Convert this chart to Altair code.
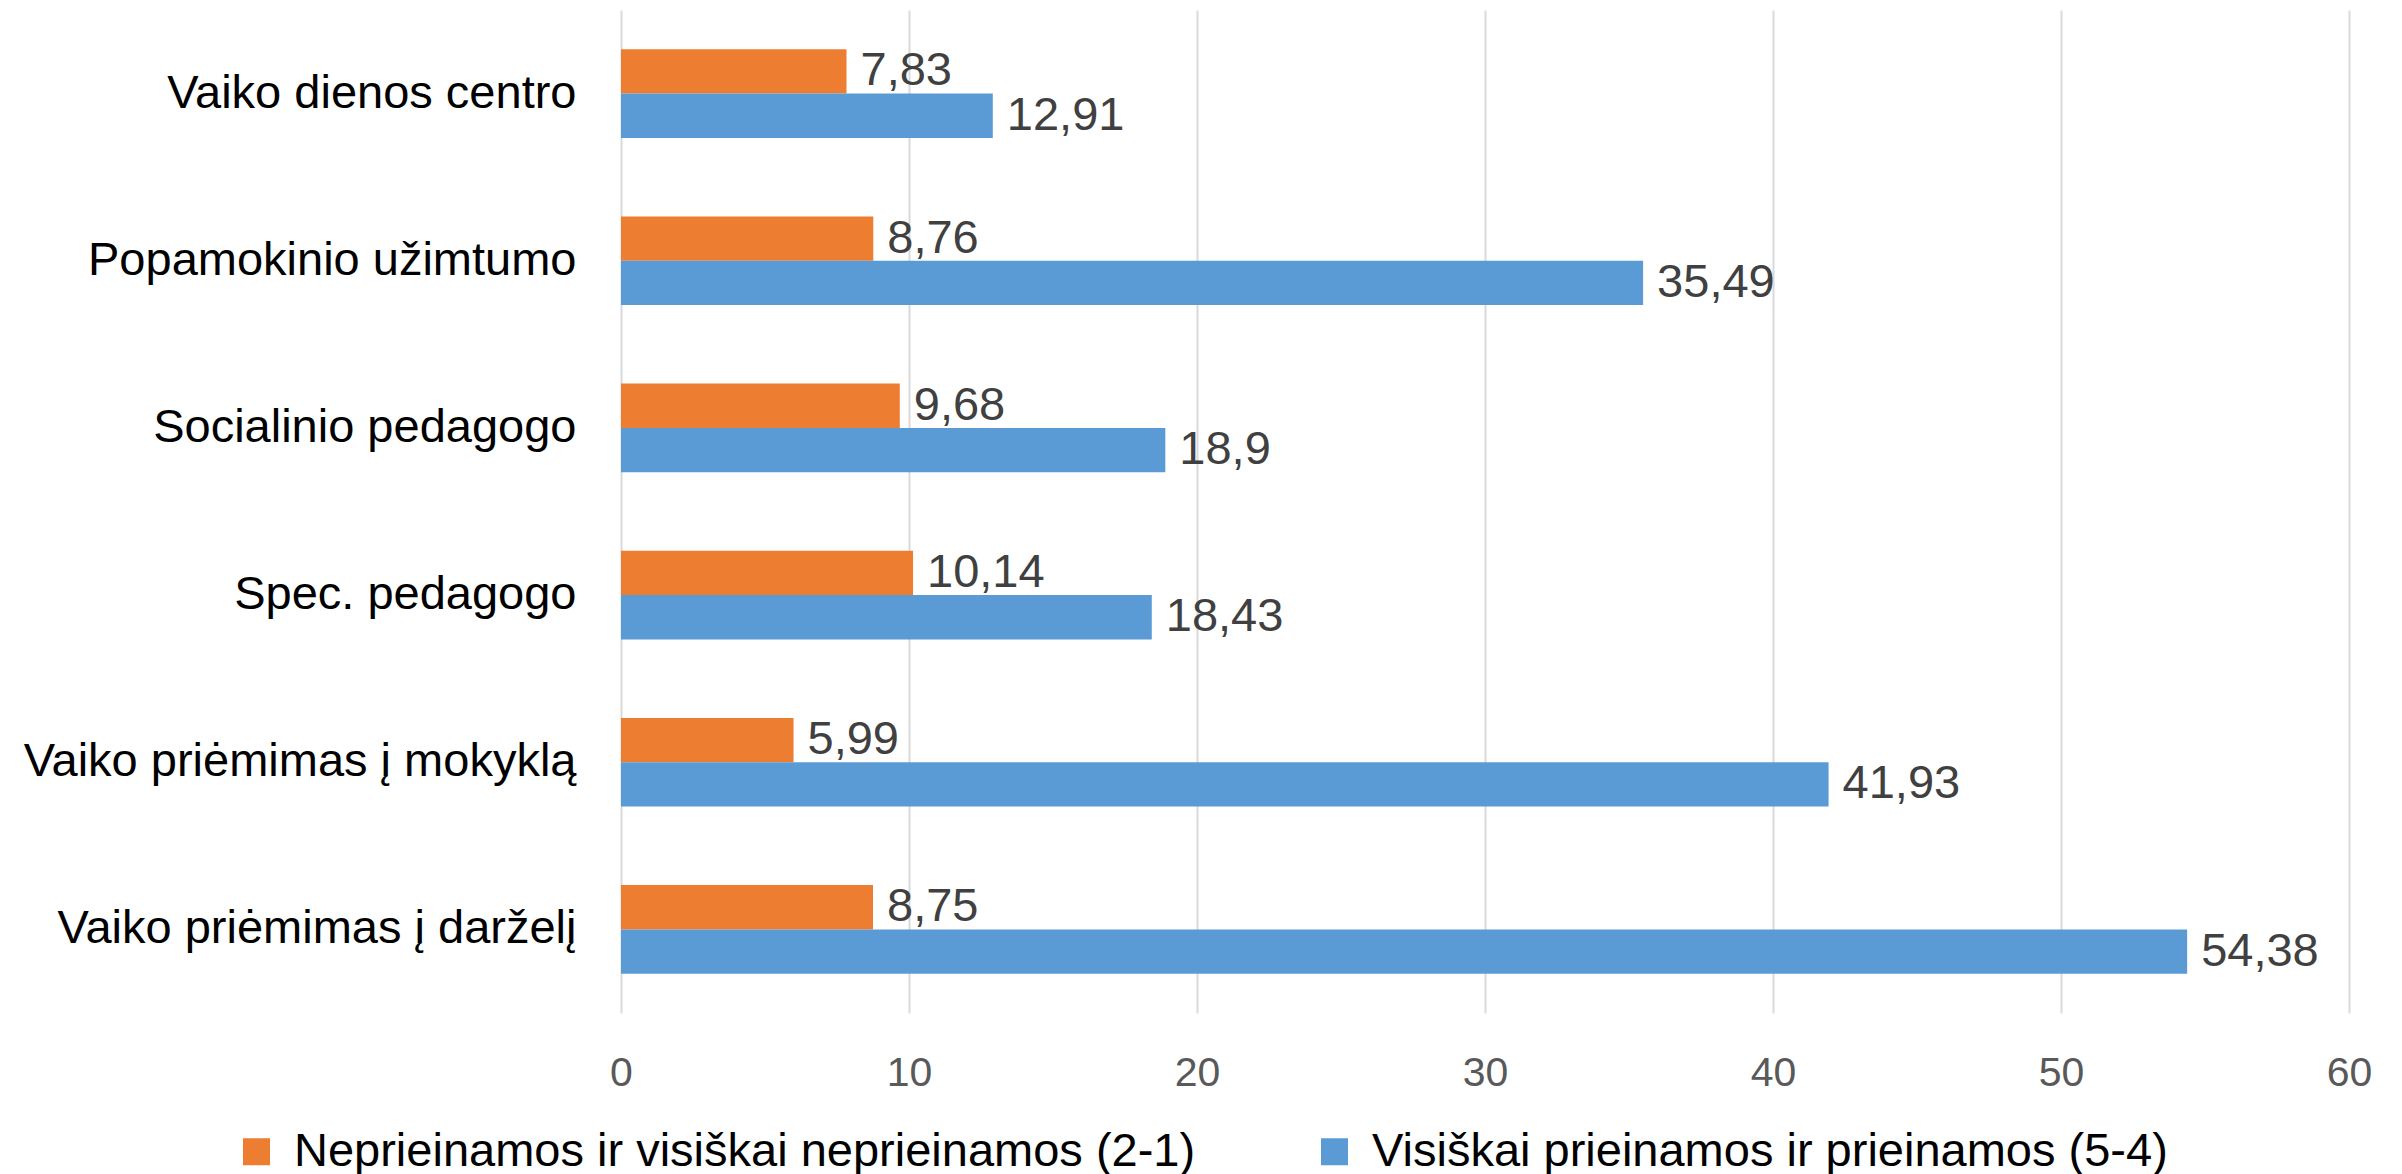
import altair as alt
import pandas as pd

categories = [
    "Vaiko dienos centro",
    "Popamokinio užimtumo",
    "Socialinio pedagogo",
    "Spec. pedagogo",
    "Vaiko priėmimas į mokyklą",
    "Vaiko priėmimas į darželį",
]
series = [
    "Neprieinamos ir visiškai neprieinamos (2-1)",
    "Visiškai prieinamos ir prieinamos (5-4)",
]
orange_values = [7.83, 8.76, 9.68, 10.14, 5.99, 8.75]
blue_values = [12.91, 35.49, 18.9, 18.43, 41.93, 54.38]
colors = ["#ED7D31", "#5B9BD5"]
x_ticks = [0, 10, 20, 30, 40, 50, 60]

rows = []
for s, vals in zip(series, [orange_values, blue_values]):
    for c, v in zip(categories, vals):
        rows.append({"cat": c, "series": s, "value": v, "label": str(v).replace(".", ",")})
df = pd.DataFrame(rows)

FONT = "Liberation Sans"

y_enc = alt.Y("cat:N", sort=categories, title=None,
              scale=alt.Scale(paddingInner=0.47, paddingOuter=0.235),
              axis=alt.Axis(ticks=False, domain=False, labelPadding=45, labelFontSize=47,
                            labelColor="#000000", labelFont=FONT, labelLimit=800))
yoff = alt.YOffset("series:N", sort=series)
x_enc = alt.X("value:Q", title=None,
              scale=alt.Scale(domain=[0, 60], nice=False),
              axis=alt.Axis(values=x_ticks, ticks=False, domain=False, grid=True,
                            gridColor="#D9D9D9", gridWidth=2, labelPadding=40,
                            labelFlush=False,
                            labelFontSize=41, labelColor="#595959", labelFont=FONT))

bars = alt.Chart(df).mark_bar().encode(
    y=y_enc,
    yOffset=yoff,
    x=x_enc,
    color=alt.Color("series:N", sort=series,
                    scale=alt.Scale(domain=series, range=colors),
                    legend=alt.Legend(title=None, orient="none", direction="horizontal",
                                      legendX=-388, legendY=1118, symbolType="square",
                                      symbolSize=729, symbolStrokeWidth=0, labelFontSize=47,
                                      labelFont=FONT, labelColor="#000000", labelOffset=14,
                                      columnPadding=115, padding=0, labelLimit=1200)),
)

labels = alt.Chart(df).mark_text(align="left", baseline="middle", dx=14,
                                 fontSize=47, font=FONT, color="#404040").encode(
    y=alt.Y("cat:N", sort=categories),
    yOffset=yoff,
    x="value:Q",
    text="label:N",
)

chart = (bars + labels).properties(
    width=1728, height=1003,
    background="white",
    autosize=alt.AutoSizeParams(type="none"),
    padding={"left": 613, "top": 2, "right": 45, "bottom": 162},
).configure_view(stroke=None)

chart.save("out.html", embed_options={"renderer": "svg", "actions": False})
